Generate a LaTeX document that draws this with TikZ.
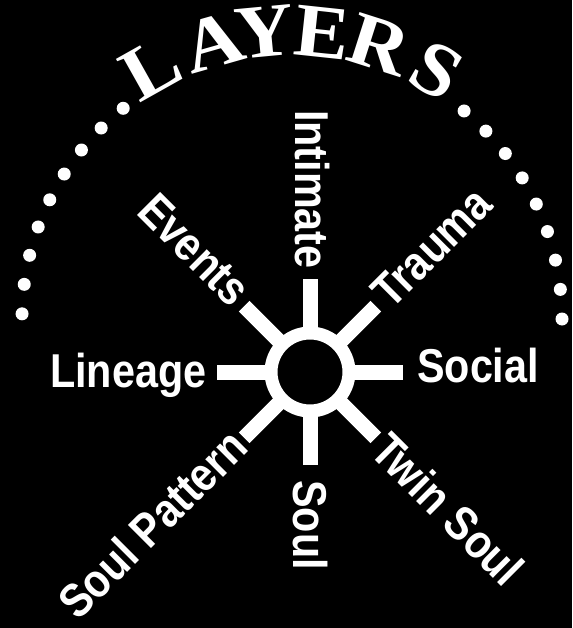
\documentclass[tikz,border=0pt]{standalone}
\usepackage{fontspec}
\usetikzlibrary{calc}
\newfontfamily\labfont{Liberation Sans}[FakeStretch=0.87]
\newfontfamily\ttlfont{Liberation Serif}[BoldFont={Liberation Serif Bold},FakeStretch=1.08]
\begin{document}
\begin{tikzpicture}[x=1pt,y=-1pt,
  lab/.style={text=white,inner sep=0pt,anchor=base west,font=\labfont\bfseries\fontsize{47.5}{50}\selectfont},
  ttl/.style={text=white,inner sep=0pt,anchor=base,font=\ttlfont\bfseries\fontsize{76}{78}\selectfont},
  spoke/.style={white,line width=15pt},
  dot/.style={white}]
\fill[black] (0,0) rectangle (572,628);
\useasboundingbox (0,0) rectangle (572,628);
% dotted arc
\foreach \a in {0,6.3,...,50.5} \fill[dot] ({292+270*cos(\a)},{319-270*sin(\a)}) circle[radius=6.5pt];
\foreach \k in {0,...,8} \fill[dot] ({292+270*cos(178.9-6.275*\k)},{319-270*sin(178.9-6.275*\k)}) circle[radius=6.5pt];
% title letters
\foreach \ch/\a in {L/119.3,A/105.9,Y/95.4,E/83.9,R/72.3,S/59.8}
  \node[ttl,rotate=\a-90] (t\ch) at ({292+263*cos(\a)},{319-263*sin(\a)}) {\ch};
% hub and spokes
\coordinate (c) at (310,372);
\foreach \n/\a in {n/90,ne/45,e/0,se/-45,s/-90,sw/-135,w/180,nw/135}
  \coordinate (end-\n) at ($(c)+({93*cos(\a)},{-93*sin(\a)})$);
\foreach \n in {n,ne,e,se,s,sw,w,nw} \draw[spoke] (c) -- (end-\n);
\node[circle,draw=white,fill=black,line width=13pt,minimum size=78pt,inner sep=0pt] (hub) at (c) {};
% labels
\node[lab] (lineage) at (50,387) {Lineage};
\node[lab] (social) at (417,382) {Social};
\node[lab,rotate=-90] (intimate) at (295,110) {Intimate};
\node[lab,rotate=-90] (soul) at (293,480) {Soul};
\node[lab,rotate=-45] (events) at (135,213) {Events};
\node[lab,rotate=45] (trauma) at (391,311) {Trauma};
\node[lab,rotate=45] (soulpattern) at (78,622) {Soul Pattern};
\node[lab,rotate=-45] (twinsoul) at (368,453) {Twin Soul};
\end{tikzpicture}
\end{document}
